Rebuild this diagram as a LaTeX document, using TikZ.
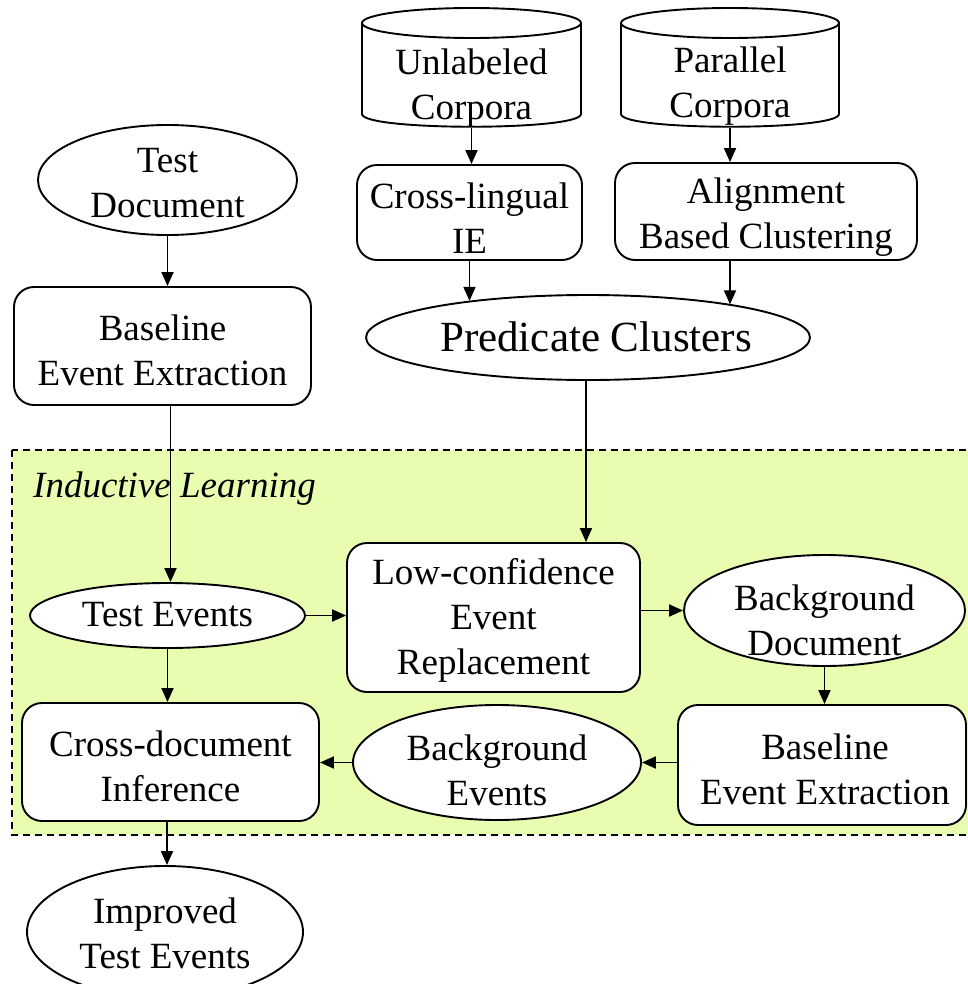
\documentclass[tikz,border=0pt]{standalone}
\usepackage{fontspec}
\setmainfont{Liberation Serif}
\usetikzlibrary{arrows.meta,shapes.geometric}
\definecolor{ilgreen}{HTML}{E9FDB1}
\begin{document}
\begin{tikzpicture}[x=1pt,y=-1pt,
  every node/.style={font=\fontsize{37}{45}\selectfont},
  lw/.style={line width=1.9pt},
  box/.style={draw, lw, rounded corners=20pt, fill=white, inner sep=0pt},
  ell/.style={draw, lw, ellipse, fill=white, inner sep=0pt},
  txt/.style={align=center, inner sep=0pt},
  ghost/.style={inner sep=0pt},
  arr/.style={lw, -{Triangle[length=14pt,width=12pt]}}]
\useasboundingbox (0,0) rectangle (967,984);

% inductive learning region
\draw[lw, dashed, dash pattern=on 7pt off 5pt, fill=ilgreen] (12,450) rectangle (980,835);
\node[anchor=base west, inner sep=0pt, font=\fontsize{37}{45}\selectfont\itshape] (il) at (33,497) {Inductive Learning};

% cylinders
\node[ghost, minimum width=219pt, minimum height=120pt] (uc) at (471.5,68) {};
\draw[lw, fill=white] (362,23) -- (362,114) .. controls (362,131) and (581,131) .. (581,114) -- (581,23);
\draw[lw, fill=white] (471.5,23) ellipse [x radius=109.5pt, y radius=15pt];
\node[txt] (uct) at (471.5,88) {Unlabeled\\Corpora};

\node[ghost, minimum width=218pt, minimum height=120pt] (pco) at (730,68) {};
\draw[lw, fill=white] (621,23) -- (621,114) .. controls (621,131) and (839,131) .. (839,114) -- (839,23);
\draw[lw, fill=white] (730,23) ellipse [x radius=109pt, y radius=15pt];
\node[txt] (pcot) at (730,86) {Parallel\\Corpora};

% boxes
\node[box, minimum width=225pt, minimum height=95pt] (cl) at (469.5,212.5) {};
\node[txt] (clt) at (469.5,218) {Cross-lingual\\IE};
\node[box, minimum width=302pt, minimum height=97pt] (al) at (766,211.5) {};
\node[txt] (alt) at (766,217) {Alignment\\Based Clustering};
\node[box, minimum width=297pt, minimum height=118pt] (b1) at (162.5,346) {};
\node[txt] (b1t) at (162.5,350) {Baseline\\Event Extraction};
\node[box, minimum width=293pt, minimum height=149pt] (lc) at (493.5,617.5) {};
\node[txt] (lct) at (493.5,620) {Low-confidence\\Event\\Replacement};
\node[box, minimum width=288pt, minimum height=120pt] (b2) at (822,765) {};
\node[txt] (b2t) at (825,769) {Baseline\\Event Extraction};
\node[box, minimum width=297pt, minimum height=118pt] (cd) at (170.5,762) {};
\node[txt] (cdt) at (170.5,766) {Cross-document\\Inference};

% ellipses
\node[ell, minimum width=259pt, minimum height=110pt] (td) at (167.5,180) {};
\node[txt] (tdt) at (167.5,183) {Test\\Document};
\node[ell, minimum width=444pt, minimum height=85pt] (pc) at (588,337.5) {};
\node[txt, font=\fontsize{43}{50}\selectfont] (pct) at (596,337) {Predicate Clusters};
\node[ell, minimum width=275pt, minimum height=65pt] (te) at (167.5,615.5) {};
\node[txt] (tet) at (167.5,615) {Test Events};
\node[ell, minimum width=281pt, minimum height=111pt] (bd) at (824.5,610.5) {};
\node[txt] (bdt) at (824.5,620) {Background\\Document};
\node[ell, minimum width=288pt, minimum height=115pt] (be) at (497,762.5) {};
\node[txt] (bet) at (497,770) {Background\\Events};
\node[ell, minimum width=276pt, minimum height=132pt] (it) at (165,932) {};
\node[txt] (itt) at (165,933) {Improved\\Test Events};

% connectors
\draw[arr] (uc.south) -- (uc.south |- cl.north);
\draw[arr] (pco.south) -- (pco.south |- al.north);
\draw[arr] (cl.south) -- (cl.south |- pc.163);
\draw[arr] (pco.south |- al.south) -- (pco.south |- pc.13);
\draw[arr] (td.south) -- (td.south |- b1.north);
\draw[arr] ([xshift=3pt]te.north |- b1.south) -- ([xshift=3pt]te.north);
\draw[arr] ([xshift=-2pt]pc.south) -- ([xshift=-2pt]pc.south |- lc.north);
\draw[arr] (te.east) -- (te.east -| lc.west);
\draw[arr] (lc.east |- bd.west) -- (bd.west);
\draw[arr] (bd.south) -- (bd.south |- b2.north);
\draw[arr] (b2.west |- be.east) -- (be.east);
\draw[arr] (be.west) -- (be.west -| cd.east);
\draw[arr] (te.south) -- (te.south |- cd.north);
\draw[arr] ([xshift=2pt]it.north |- cd.south) -- ([xshift=2pt]it.north);
\end{tikzpicture}
\end{document}
